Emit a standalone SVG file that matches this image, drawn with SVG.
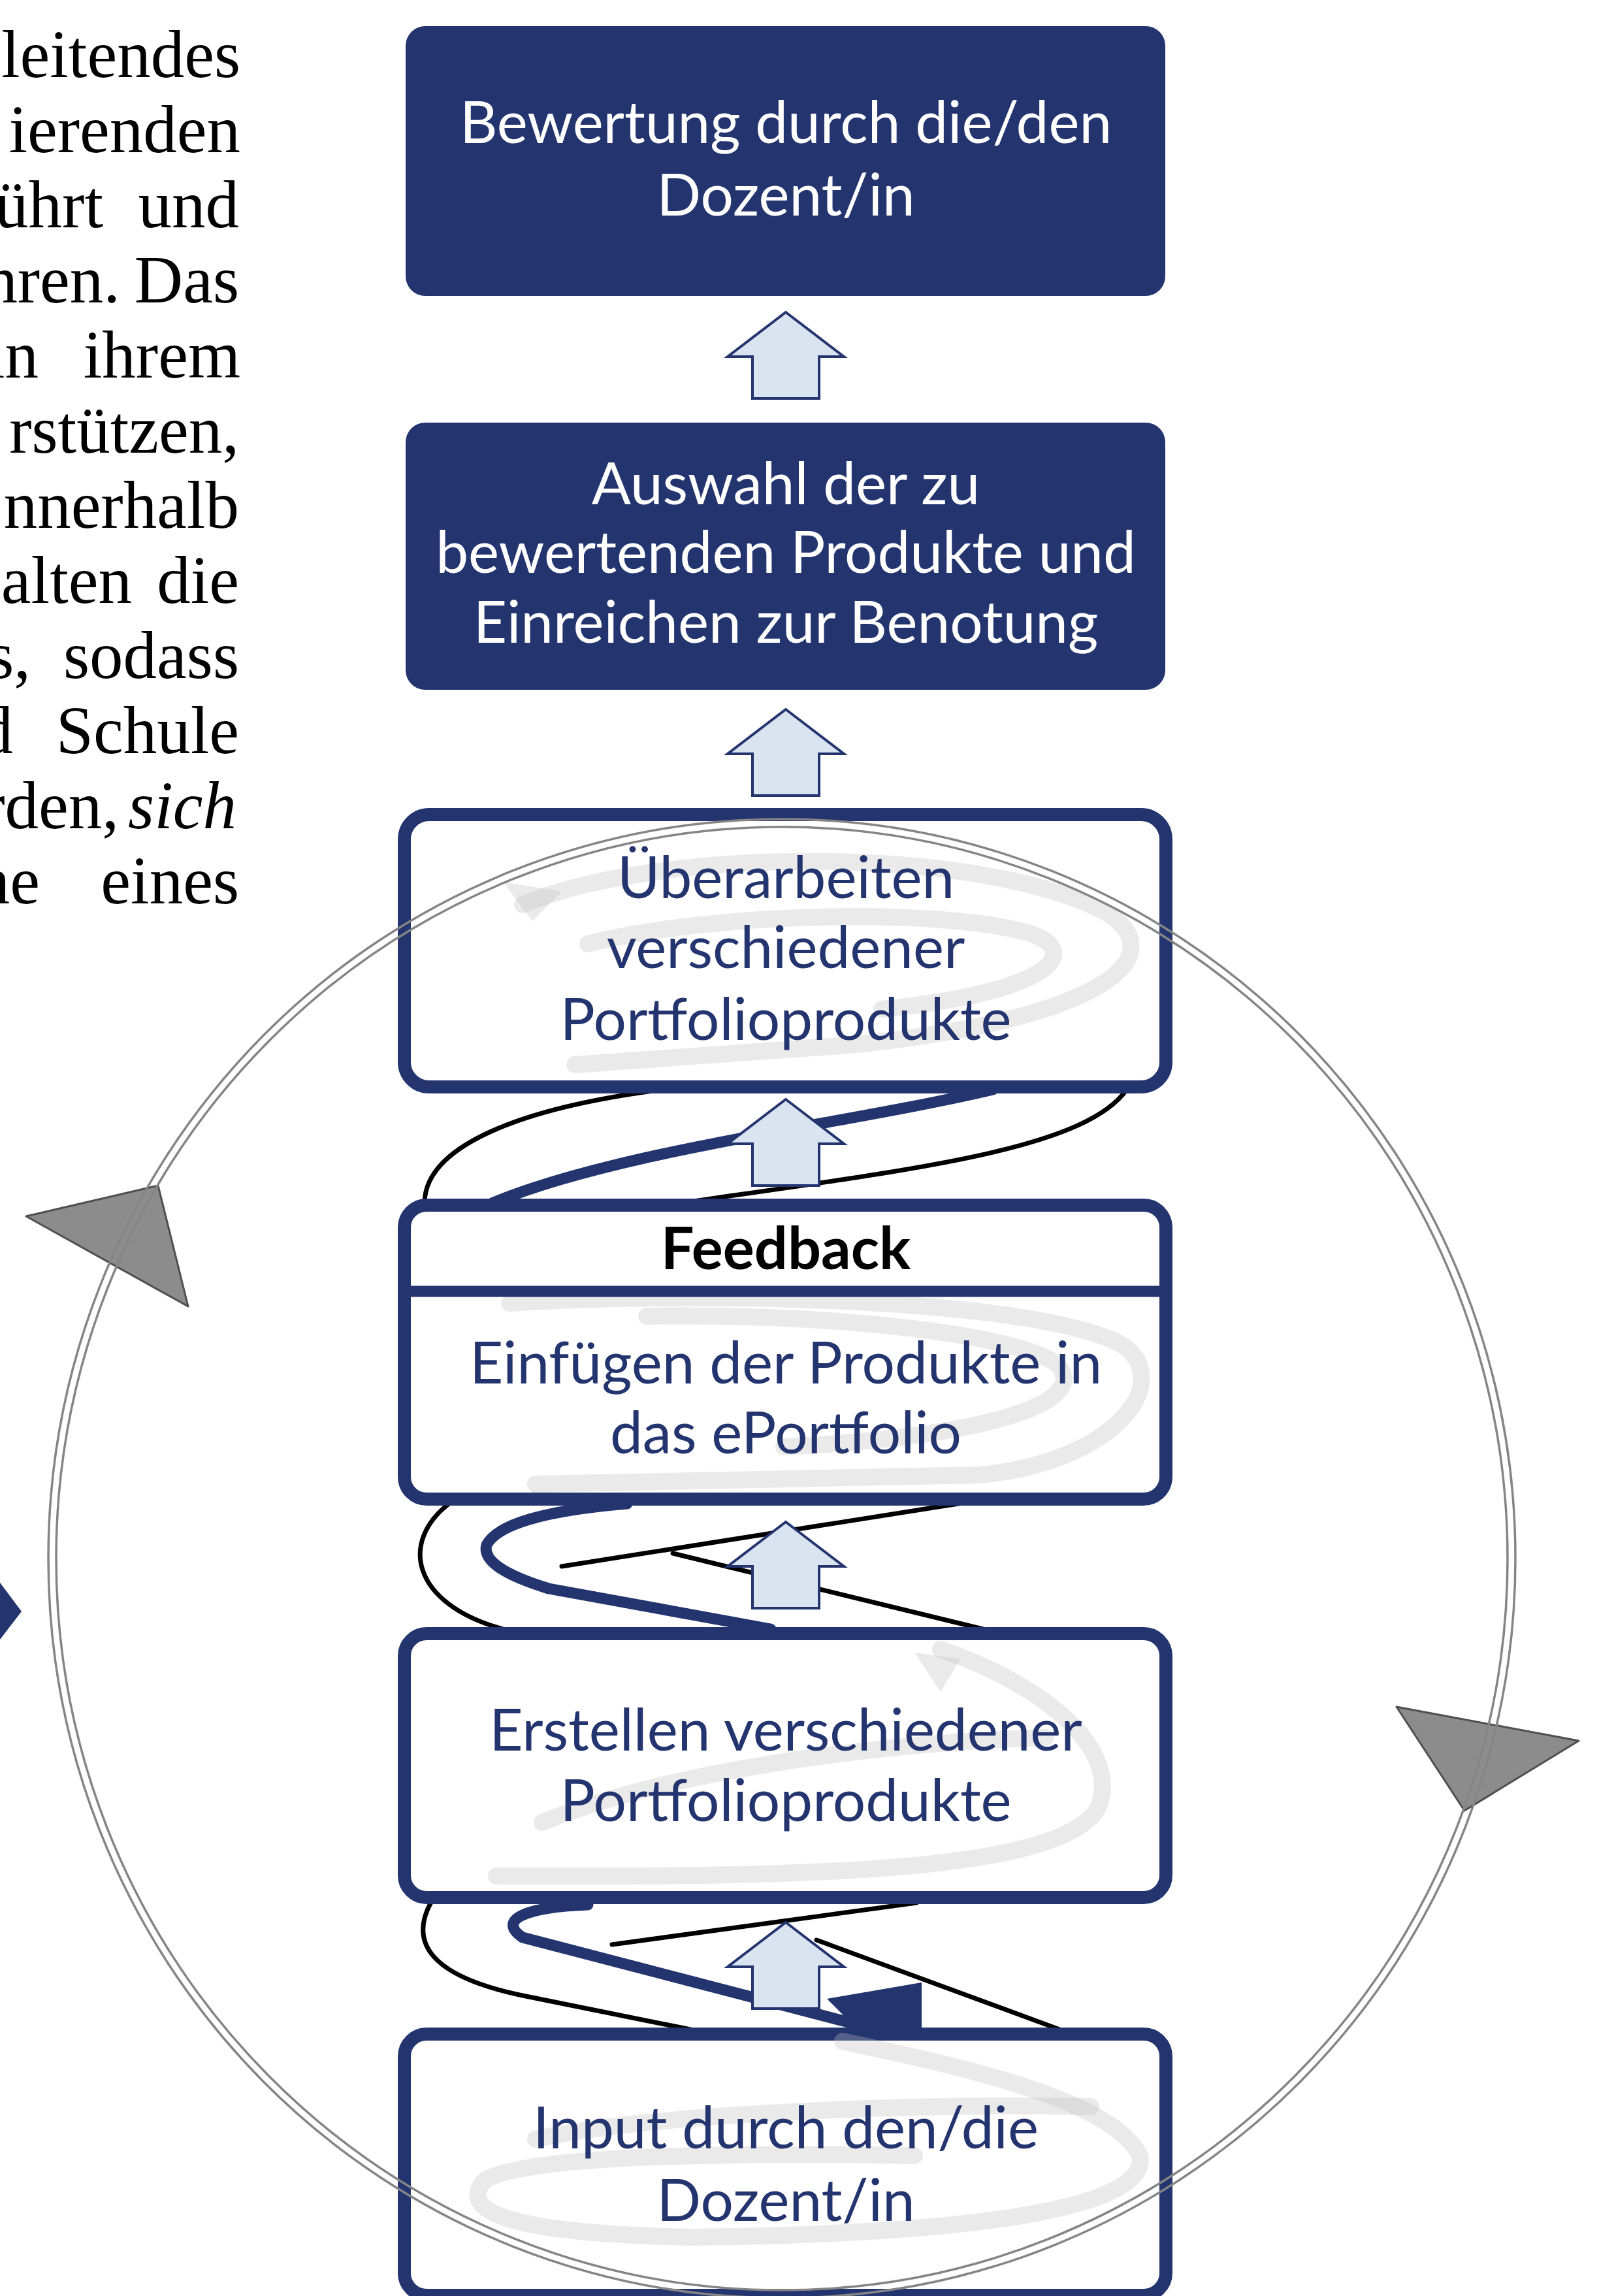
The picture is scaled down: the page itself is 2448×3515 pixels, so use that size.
<svg xmlns="http://www.w3.org/2000/svg" width="2448" height="3515" viewBox="0 0 2448 3515">
<style>
.para{font-family:"Liberation Serif","Times New Roman",serif;font-size:103px;fill:#000;text-anchor:end}
.it{font-style:italic}
.wt{font-family:Lato,"Open Sans",sans-serif;font-size:89px;fill:#ffffff;text-anchor:middle}
.bt{font-family:Lato,"Open Sans",sans-serif;font-size:89px;fill:#24346f;text-anchor:middle}
.fb{font-family:Lato,"Open Sans",sans-serif;font-size:90px;font-weight:bold;fill:#000;text-anchor:middle}
.dark{fill:#24346f}
.outl{fill:#ffffff;stroke:#24346f;stroke-width:20}
.ghost{fill:none;stroke:#bdbdbd;stroke-width:26;stroke-linecap:round;opacity:0.32}
.blk{fill:none;stroke:#000;stroke-width:7;stroke-linecap:round}
.nvy{fill:none;stroke:#24346f;stroke-width:17;stroke-linecap:round;stroke-linejoin:round}
.ring{fill:none;stroke:#858585;stroke-width:3.5}
.tri{fill:#8c8c8c;stroke:#4f4f4f;stroke-width:3;stroke-linejoin:round}
</style>
<defs>
<path id="uparrow" d="M0,0 L89,68 L51,68 L51,132 L-51,132 L-51,68 L-89,68 Z" fill="#dae4f1" stroke="#24346f" stroke-width="4" stroke-linejoin="miter"/>
</defs>
<rect width="2448" height="3515" fill="#ffffff"/>

<g id="paragraph">
<text class="para" x="368" y="118">leitendes</text>
<text class="para" x="368" y="233">ierenden</text>
<text class="para" x="158" y="348">ührt</text><text class="para" x="366" y="348">und</text>
<text class="para" x="184" y="463">hren.</text><text class="para" x="366" y="463">Das</text>
<text class="para" x="59" y="578">in</text><text class="para" x="368" y="578">ihrem</text>
<text class="para" x="366" y="693">rstützen,</text>
<text class="para" x="366" y="808">nnerhalb</text>
<text class="para" x="202" y="923">alten</text><text class="para" x="366" y="923">die</text>
<text class="para" x="47" y="1038">s,</text><text class="para" x="366" y="1038">sodass</text>
<text class="para" x="20" y="1153">d</text><text class="para" x="366" y="1153">Schule</text>
<text class="para" x="182" y="1268">rden,</text><text class="para it" x="362" y="1268">sich</text>
<text class="para" x="61" y="1383">ne</text><text class="para" x="366" y="1383">eines</text>
</g>

<g id="side-marker">
<polygon points="0,2423 33,2467 0,2510" fill="#24346f"/>
</g>

<g id="connectors">
<path class="blk" d="M1000 1670 C780 1700 650 1760 650 1842"/>
<path class="blk" d="M1725 1668 C1660 1760 1400 1790 1055 1840"/>
<path class="nvy" d="M753 1842 C950 1760 1300 1720 1520 1668"/>
<path class="blk" d="M690 2300 C610 2360 630 2455 770 2494"/>
<path class="nvy" d="M960 2302 Q770 2318 745 2365 Q735 2400 840 2432 L1180 2494"/>
<path class="blk" d="M1480 2300 L860 2398"/>
<path class="blk" d="M1030 2378 L1505 2494"/>
<path class="blk" d="M660 2912 C620 2985 680 3030 800 3055 Q950 3085 1062 3108"/>
<path class="nvy" d="M900 2916 C800 2920 762 2940 800 2966 L1330 3104"/>
<polygon points="1266,3060 1411,3035 1411,3106 1312,3106" fill="#24346f"/>
<path class="blk" d="M1403 2913 L937 2977"/>
<path class="blk" d="M1250 2970 L1625 3108"/>
<use href="#uparrow" x="1203" y="478"/>
<use href="#uparrow" x="1203" y="1086"/>
<use href="#uparrow" x="1203" y="1683"/>
<use href="#uparrow" x="1203" y="2330"/>
<use href="#uparrow" x="1203" y="2943"/>
</g>

<g id="node-bewertung">
<rect class="dark" x="621" y="40" width="1163" height="413" rx="30"/>
<text class="wt" x="1203" y="219">Bewertung durch die/den</text>
<text class="wt" x="1203" y="330">Dozent/in</text>
</g>

<g id="node-auswahl">
<rect class="dark" x="621" y="647" width="1163" height="409" rx="30"/>
<text class="wt" x="1203" y="772">Auswahl der zu</text>
<text class="wt" x="1203" y="877">bewertenden Produkte und</text>
<text class="wt" x="1203" y="984">Einreichen zur Benotung</text>
</g>

<g id="node-ueberarbeiten">
<rect class="outl" x="619" y="1247" width="1166" height="417" rx="38"/>
<path class="ghost" d="M800 1385 C1000 1300 1480 1290 1690 1395 C1800 1460 1700 1560 1300 1600 L880 1630"/>
<path class="ghost" d="M900 1445 C1100 1395 1450 1390 1580 1430 C1660 1460 1600 1520 1350 1545"/>
<polygon points="770,1350 860,1365 815,1410" fill="#bdbdbd" opacity="0.32"/>
<text class="bt" x="1203" y="1375">Überarbeiten</text>
<text class="bt" x="1203" y="1482">verschiedener</text>
<text class="bt" x="1203" y="1592">Portfolioprodukte</text>
</g>

<g id="node-feedback">
<rect class="outl" x="619" y="1845" width="1166" height="450" rx="34"/>
<path class="ghost" d="M780 1995 C1100 1975 1600 1990 1720 2060 C1800 2120 1700 2240 1500 2258 L820 2272"/>
<path class="ghost" d="M990 2015 C1250 2010 1560 2040 1620 2090 C1670 2150 1500 2200 1200 2215"/>
<line x1="619" y1="1977" x2="1785" y2="1977" stroke="#24346f" stroke-width="17"/>
<text class="fb" x="1203" y="1943">Feedback</text>
<text class="bt" x="1203" y="2118">Einfügen der Produkte in</text>
<text class="bt" x="1203" y="2225">das ePortfolio</text>
</g>

<g id="node-erstellen">
<rect class="outl" x="619" y="2501" width="1166" height="404" rx="34"/>
<path class="ghost" d="M1440 2525 C1600 2580 1720 2680 1680 2770 C1620 2860 1300 2875 760 2872"/>
<path class="ghost" d="M830 2790 C1000 2720 1300 2670 1600 2660"/>
<polygon points="1400,2530 1470,2540 1440,2590" fill="#bdbdbd" opacity="0.32"/>
<text class="bt" x="1203" y="2680">Erstellen verschiedener</text>
<text class="bt" x="1203" y="2788">Portfolioprodukte</text>
</g>

<g id="node-input">
<rect class="outl" x="619" y="3114" width="1166" height="400" rx="34"/>
<path class="ghost" d="M1290 3125 C1450 3160 1700 3210 1745 3300 C1760 3380 1500 3420 1060 3425 C800 3420 700 3390 740 3340 C790 3300 1100 3295 1400 3300"/>
<path class="ghost" d="M820 3275 C1000 3235 1400 3220 1670 3225"/>
<text class="bt" x="1203" y="3289">Input durch den/die</text>
<text class="bt" x="1203" y="3400">Dozent/in</text>
</g>

<g id="cycle">
<polygon class="tri" points="40,1862 242,1815 288,2000"/>
<polygon class="tri" points="2138,2613 2417,2665 2242,2772"/>
<ellipse class="ring" cx="1197" cy="2386" rx="1111" ry="1120"/>
<ellipse class="ring" cx="1197" cy="2386" rx="1123" ry="1132"/>
</g>
</svg>
